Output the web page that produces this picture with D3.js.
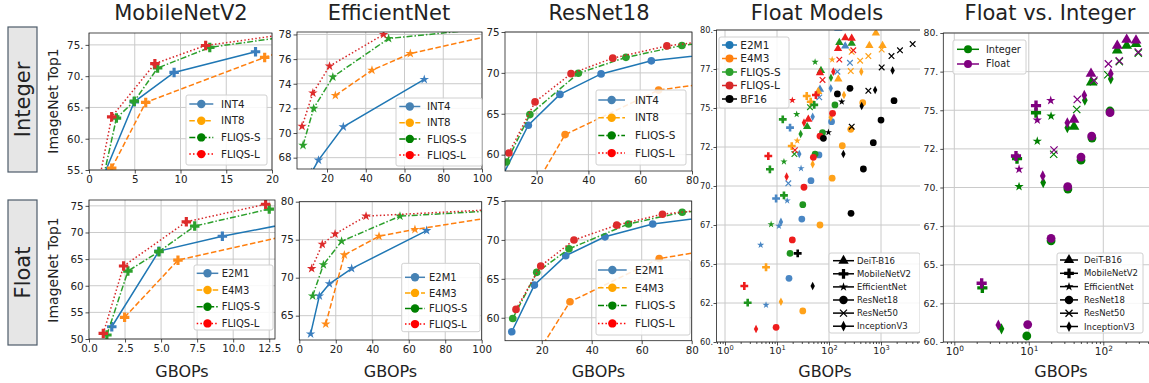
<!DOCTYPE html>
<html>
<head>
<meta charset="utf-8">
<script src="https://cdn.jsdelivr.net/npm/d3@7"></script>
<style>
  body { margin: 0; background: #fff; }
  svg { display: block; }
  text { font-family: "DejaVu Sans", sans-serif; fill: #222; }
</style>
</head>
<body>
<svg id="chart" width="1149" height="383"></svg>
<script>
// ---------- data: [GBOPs, ImageNet top-1] ----------
const intNames = ['INT4', 'INT8', 'FLIQS-S', 'FLIQS-L'];
const fpNames = ['E2M1', 'E4M3', 'FLIQS-S', 'FLIQS-L'];

// MobileNetV2, integer
const mbIntInt4 = [[1.0, 52], [4.95, 65.9], [9.3, 70.6], [18.2, 73.9]];
const mbIntInt8 = [[2.48, 55.3], [6.2, 65.8], [19.2, 73.0], [26, 76.4]];
const mbIntFliqsS = [[1.6, 54], [3.0, 63.3], [4.95, 66.0], [7.5, 71.3], [13.2, 74.6], [26, 77.2]];
const mbIntFliqsL = [[1.2, 54], [2.48, 63.5], [7.2, 72.0], [12.75, 74.9], [26, 77.6]];
// EfficientNet, integer
const effIntInt4 = [[12, 66.8], [15.6, 67.8], [28.4, 70.5], [70.2, 74.35]];
const effIntInt8 = [[24.3, 73.05], [43.2, 75.1], [63.0, 76.45], [110, 78.1]];
const effIntFliqsS = [[7.6, 69.0], [13.1, 72.0], [23.0, 74.55], [51.8, 77.67], [110, 78.6]];
const effIntFliqsL = [[7.1, 70.55], [12.7, 73.25], [21.3, 75.43], [49.2, 78.0]];
// ResNet18, integer
const r18IntInt4 = [[7, 57.5], [16.8, 63.6], [29.0, 67.37], [44.9, 69.87], [64.3, 71.47], [95, 72.6]];
const r18IntInt8 = [[15.5, 54], [31.0, 62.45], [67.1, 67.9], [95, 69.1]];
const r18IntFliqsS = [[8.4, 59.1], [17.4, 64.9], [36.1, 69.95], [54.5, 71.9], [76.1, 73.35], [100, 74.2]];
const r18IntFliqsL = [[9.3, 60.2], [19.4, 66.45], [33.3, 69.9], [49.4, 71.8], [70.3, 73.3], [100, 74.4]];
// MobileNetV2, float
const mbFloatE2M1 = [[1.58, 52.3], [4.85, 66.5], [9.25, 69.3], [16, 72.8]];
const mbFloatE4M3 = [[2.47, 54.07], [6.17, 64.8], [19, 72.6]];
const mbFloatFliqsS = [[1.24, 50.75], [2.7, 62.75], [4.85, 66.4], [7.33, 71.2], [12.5, 74.4]];
const mbFloatFliqsL = [[0.99, 51.05], [2.4, 63.7], [6.75, 72.0], [12.25, 75.3]];
// EfficientNet, float
const effFloatE2M1 = [[6.2, 62.6], [11.0, 67.6], [16.5, 69.2], [28.7, 71.2], [69.8, 76.2]];
const effFloatE4M3 = [[14.5, 63.9], [24.7, 73.0], [43.7, 75.45], [63.4, 76.35], [110, 78.1]];
const effFloatFliqsS = [[7.3, 67.6], [13.2, 71.7], [23.2, 74.8], [55.2, 78.1], [110, 78.85]];
const effFloatFliqsL = [[6.8, 71.2], [12.6, 74.4], [19.6, 75.75], [36.6, 78.1], [110, 79.0]];
// ResNet18, float
const r18FloatE2M1 = [[8.0, 58.2], [17.05, 64.2], [29.6, 67.97], [45.3, 70.4], [64.4, 72.05], [95, 73.3]];
const r18FloatE4M3 = [[15.5, 54], [31.3, 62.05], [67.0, 67.6], [95, 69.1]];
const r18FloatFliqsS = [[8.4, 59.9], [18.0, 65.83], [30.9, 68.85], [54.7, 72.05], [76.2, 73.55], [100, 74.2]];
const r18FloatFliqsL = [[9.7, 61.07], [19.6, 66.65], [32.9, 69.99], [50.0, 71.9], [68.3, 73.3], [100, 74.4]];

// scatter panels: [GBOPs, top-1, model]
const modelKeys = ['deit', 'mbv2', 'eff', 'r18', 'r50', 'incv3'];
const modelNames = ['DeiT-B16', 'MobileNetV2', 'EfficientNet', 'ResNet18', 'ResNet50', 'InceptionV3'];
const fmNames = ['E2M1', 'E4M3', 'FLIQS-S', 'FLIQS-L', 'BF16'];
const fmE2M1 = [[151, 80.1, 'deit'], [205, 78.97, 'deit'], [253, 77.9, 'r50'], [145, 77.33, 'r50'], [67, 76.2, 'deit'],
  [108, 76.26, 'incv3'], [65, 75.68, 'r50'], [48.5, 74.44, 'incv3'], [112, 74.12, 'r18'], [17.8, 73.74, 'mbv2'],
  [26.8, 72.05, 'incv3'], [64, 71.99, 'r18'], [29, 71.13, 'eff'], [16.5, 70.17, 'r50'], [45, 70.34, 'r18'],
  [9.6, 69.2, 'mbv2'], [15.7, 69.06, 'eff'], [30, 67.88, 'r18'], [11.9, 67.7, 'incv3'], [10.9, 67.44, 'eff'],
  [4.85, 66.22, 'eff'], [17, 64.08, 'r18'], [6.15, 62.37, 'eff']];
const fmE4M3 = [[797, 79.8, 'deit'], [597, 79.0, 'deit'], [1070, 79.0, 'deit'], [1030, 78.75, 'r50'], [273, 78.6, 'r50'],
  [571, 78.33, 'r50'], [397, 78.03, 'r50'], [115, 78.1, 'eff'], [262, 77.37, 'r50'], [418, 77.33, 'incv3'],
  [151, 76.86, 'deit'], [62, 76.05, 'deit'], [194, 75.83, 'incv3'], [37.3, 75.77, 'mbv2'], [44.5, 75.4, 'mbv2'],
  [445, 75.34, 'r18'], [108, 74.4, 'incv3'], [262, 73.63, 'r18'], [24.5, 72.9, 'eff'], [19.2, 72.56, 'mbv2'],
  [180, 72.58, 'r18'], [48.5, 71.4, 'incv3'], [115, 70.5, 'r18'], [67, 67.5, 'r18'], [6.15, 64.79, 'mbv2'],
  [11.9, 62.58, 'incv3'], [31.3, 61.99, 'r18']];
const fmFliqsS = [[158, 79.2, 'deit'], [273, 79.15, 'deit'], [54, 77.95, 'eff'], [70, 77.4, 'deit'], [109, 76.94, 'incv3'],
  [52, 75.2, 'mbv2'], [43, 75.05, 'r50'], [130, 75.2, 'r18'], [23.9, 74.6, 'eff'], [12.9, 74.27, 'mbv2'],
  [38, 73.8, 'deit'], [75, 73.42, 'r18'], [28.5, 73.33, 'incv3'], [21.6, 72.05, 'r50'], [54, 72.05, 'r18'],
  [13.6, 71.56, 'eff'], [7.3, 71.07, 'mbv2'], [13.6, 69.4, 'mbv2'], [31.3, 68.8, 'r18'], [7.7, 67.54, 'eff'],
  [17.8, 65.68, 'r18'], [2.73, 62.52, 'mbv2']];
const fmFliqsL = [[205, 79.5, 'deit'], [273, 79.47, 'deit'], [149, 78.8, 'deit'], [293, 78.7, 'r50'], [158, 78.1, 'r50'],
  [67, 77.26, 'deit'], [121, 77.33, 'incv3'], [75, 76.8, 'r50'], [56, 75.83, 'mbv2'], [19.7, 75.5, 'eff'],
  [117, 74.66, 'r18'], [33, 74.06, 'incv3'], [40, 74.27, 'deit'], [67, 73.2, 'r18'], [22.1, 72.3, 'r50'],
  [6.8, 71.92, 'mbv2'], [50, 71.84, 'r18'], [15.3, 70.6, 'incv3'], [33, 69.92, 'r18'], [19.7, 66.54, 'r18'],
  [2.35, 63.59, 'mbv2'], [3.95, 60.83, 'incv3'], [9.6, 60.94, 'r18']];
const fmBF16 = [[4060, 79.1, 'r50'], [2317, 78.7, 'r50'], [1590, 78.33, 'r50'], [1030, 77.6, 'r50'], [1670, 77.4, 'incv3'],
  [253, 76.26, 'r18'], [571, 76.1, 'r50'], [771, 76.15, 'incv3'], [145, 75.9, 'r18'], [176, 75.4, 'eff'],
  [425, 75.13, 'incv3'], [1780, 75.47, 'r18'], [1000, 74.23, 'r18'], [273, 73.8, 'r50'], [97.5, 73.44, 'eff'],
  [78, 73.06, 'r18'], [711, 72.78, 'r18'], [189, 72.05, 'incv3'], [458, 71.09, 'r18'], [265, 68.25, 'r18'],
  [25, 65.68, 'mbv2'], [48.5, 63.59, 'incv3']];

const fviNames = ['Integer', 'Float'];
const fviInteger = [[154, 78.88, 'deit'], [206, 79.18, 'deit'], [275, 79.3, 'deit'], [295, 78.7, 'r50'], [164, 78.15, 'r50'],
  [115, 77.3, 'r50'], [126, 77.03, 'incv3'], [69, 76.81, 'deit'], [74, 76.85, 'r50'], [56.5, 75.65, 'incv3'],
  [44, 75.05, 'r50'], [12.5, 74.84, 'mbv2'], [19.9, 74.62, 'eff'], [13, 73.0, 'eff'], [40.4, 73.94, 'deit'],
  [32.9, 73.87, 'incv3'], [70.5, 73.2, 'r18'], [123, 74.95, 'r18'], [21.6, 72.15, 'r50'], [6.95, 71.87, 'mbv2'],
  [50.2, 71.77, 'r18'], [7.4, 70.06, 'eff'], [15.6, 70.32, 'incv3'], [33.5, 69.9, 'r18'], [19.9, 66.55, 'r18'],
  [2.38, 63.5, 'mbv2'], [4.3, 60.85, 'incv3'], [9.4, 60.39, 'r18']];
const fviFloat = [[154, 79.18, 'deit'], [206, 79.57, 'deit'], [275, 79.52, 'deit'], [295, 78.77, 'r50'], [164, 78.2, 'r50'],
  [117, 78.0, 'r50'], [126, 77.37, 'incv3'], [68.4, 77.37, 'deit'], [75, 76.94, 'r50'], [55.6, 75.97, 'incv3'],
  [44.8, 75.7, 'r50'], [12.5, 75.3, 'mbv2'], [19.7, 75.63, 'eff'], [13, 74.36, 'eff'], [40.4, 74.4, 'deit'],
  [32.9, 74.19, 'incv3'], [69.8, 73.33, 'r18'], [123, 74.84, 'r18'], [21.8, 72.43, 'r50'], [6.73, 72.04, 'mbv2'],
  [50.2, 71.97, 'r18'], [7.4, 71.18, 'eff'], [15.4, 70.75, 'incv3'], [33.3, 70.06, 'r18'], [19.9, 66.71, 'r18'],
  [2.33, 63.8, 'mbv2'], [3.9, 61.1, 'incv3'], [9.67, 61.13, 'r18']];

// ---------- styles ----------
const lineCol = ['#1f77b4', '#ff7f0e', '#2ca02c', '#d62728'];
const markCol = ['#3b7ebe', '#ff8c1a', '#2ca02c', '#dd2b2b'];
const legCol = ['steelblue', 'orange', 'green', 'red'];
const dashes = [null, '5.5,2.5', '6,2,1.5,2', '1.5,2.2'];
const fmCol = ['#4a87c4', '#ffa21a', '#1f951f', '#ee1c1c', '#000'];
const fmLegCol = ['#1f77b4', '#ff7f0e', '#2ca02c', '#d62728', '#000'];
const fviCol = ['#008000', '#800080'];
const titleFont = '"Open Sans", sans-serif';

const svg = d3.select('#chart');
svg.append('rect').attr('width', 1149).attr('height', 383).attr('fill', '#fff');

let clipN = 0;
function clip(x0, y0, x1, y1) {
  const id = 'clip' + (clipN++);
  svg.append('clipPath').attr('id', id).append('rect')
    .attr('x', x0).attr('y', y0).attr('width', x1 - x0).attr('height', y1 - y0);
  return `url(#${id})`;
}

function modelPath(key, k) {
  switch (key) {
    case 'deit': return d3.symbol(d3.symbolTriangle, 30 * k * k)();
    case 'mbv2': return d3.symbol(d3.symbolCross, 34 * k * k)();
    case 'eff': return d3.symbol(d3.symbolStar, 16 * k * k)();
    case 'r18': return d3.symbol(d3.symbolCircle, 36 * k * k)();
    case 'r50': { const a = 2.8 * k; return `M${-a},${-a}L${a},${a}M${-a},${a}L${a},${-a}`; }
    default: { const w = 2.2 * k, h = 4.3 * k; return `M0,${-h}L${w},0L0,${h}L${-w},0Z`; }
  }
}

function mark(sel, d, color, hollow) {
  return sel.append('path').attr('d', d)
    .attr('fill', hollow ? 'none' : color)
    .attr('stroke', hollow ? color : 'none')
    .attr('stroke-width', hollow ? 1.3 : 0);
}

function styleAxis(sel, fs) {
  sel.select('.domain').remove();
  sel.selectAll('.tick line').attr('stroke', '#222').attr('stroke-width', 0.8);
  sel.selectAll('.tick text').attr('font-size', fs);
}

function legend(g, L, items) {
  g.append('rect').attr('x', L.x).attr('y', L.y).attr('width', L.w).attr('height', L.h)
    .attr('rx', 2).attr('fill', '#fff').attr('fill-opacity', 0.85).attr('stroke', '#d0d0d0');
  items.forEach((it, i) => {
    const cy = L.y + L.first + i * L.step, ax = L.x + L.lx;
    g.append('line').attr('x1', ax).attr('x2', ax + L.lw).attr('y1', cy).attr('y2', cy)
      .attr('stroke', it.color).attr('stroke-width', 1.5).attr('stroke-dasharray', it.dash);
    mark(g.append('g').attr('transform', `translate(${ax + L.lw / 2},${cy})`), it.d, it.color, it.hollow);
    g.append('text').attr('x', ax + L.lw + L.tx).attr('y', cy).attr('dy', '0.36em')
      .attr('font-size', L.fs).text(it.label);
  });
}

function frame(g, x0, y0, x1, y1) {
  g.append('rect').attr('x', x0).attr('y', y0).attr('width', x1 - x0).attr('height', y1 - y0)
    .attr('fill', 'none').attr('stroke', '#222').attr('stroke-width', 0.8);
}

function grid(g, xs, ys, x, y, x0, y0, x1, y1) {
  g.append('g').selectAll('line').data(xs).join('line')
    .attr('x1', d => x(d)).attr('x2', d => x(d)).attr('y1', y0).attr('y2', y1)
    .attr('stroke', '#cacaca').attr('stroke-width', 1);
  g.append('g').selectAll('line').data(ys).join('line')
    .attr('y1', d => y(d)).attr('y2', d => y(d)).attr('x1', x0).attr('x2', x1)
    .attr('stroke', '#cacaca').attr('stroke-width', 1);
}

const trunc = d => d3.format('.1f')(d).slice(0, -1);

function linePanel(o) {
  const [x0, y0, x1, y1] = o.box;
  const x = d3.scaleLinear().domain(o.xd).range([x0, x1]);
  const y = d3.scaleLinear().domain(o.yd).range([y1, y0]);
  const g = svg.append('g');
  grid(g, o.xt, o.yt, x, y, x0, y0, x1, y1);
  g.append('g').attr('transform', `translate(0,${y1})`)
    .call(d3.axisBottom(x).tickValues(o.xt).tickFormat(o.xf || d3.format('d')).tickSize(3.5).tickPadding(2))
    .call(s => styleAxis(s, 10.3));
  g.append('g').attr('transform', `translate(${x0},0)`)
    .call(d3.axisLeft(y).tickValues(o.yt).tickFormat(o.yf || d3.format('d')).tickSize(3.5).tickPadding(2))
    .call(s => styleAxis(s, 10.3));
  const data = g.append('g').attr('clip-path', clip(x0, y0, x1, y1));
  const line = d3.line().x(d => x(d[0])).y(d => y(d[1]));
  o.series.forEach((s, i) => {
    data.append('path').datum(s).attr('d', line).attr('fill', 'none')
      .attr('stroke', lineCol[i]).attr('stroke-width', 1.5).attr('stroke-dasharray', dashes[i]);
    data.append('g').selectAll('path').data(s).join('path')
      .attr('transform', d => `translate(${x(d[0])},${y(d[1])})`)
      .attr('d', o.marker).attr('fill', markCol[i]);
  });
  frame(g, x0, y0, x1, y1);
  const circle = d3.symbol(d3.symbolCircle, 56)();
  legend(g, o.leg, o.names.map((n, i) => ({ label: n, color: legCol[i], dash: dashes[i], d: circle })));
  if (o.title) g.append('text').attr('x', o.title[1]).attr('y', 20).attr('text-anchor', 'middle')
    .attr('font-family', titleFont).attr('font-size', 21).text(o.title[0]);
  if (o.xlabel) g.append('text').attr('x', (x0 + x1) / 2).attr('y', 377).attr('text-anchor', 'middle')
    .attr('font-family', titleFont).attr('font-size', 16).text('GBOPs');
}

function logPanel(o) {
  const [x0, y0, x1, y1] = o.box;
  const x = d3.scaleLog().domain(o.xd).range([x0, x1]);
  const y = d3.scaleLinear().domain([60, 80]).range([y1, y0]);
  const yt = [60, 62.5, 65, 67.5, 70, 72.5, 75, 77.5, 80];
  const majors = [1, 10, 100, 1000, 10000].filter(v => v >= o.xd[0] && v <= o.xd[1]);
  const labelled = majors.filter(v => v <= o.maxLabel);
  const minors = [];
  for (let e = -1; e < 4; e++) for (let m = 2; m < 10; m++) {
    const v = m * Math.pow(10, e);
    if (v >= o.xd[0] && v <= o.xd[1]) minors.push(v);
  }
  const g = svg.append('g');
  grid(g, majors, yt, x, y, x0, y0, x1, y1);
  g.append('g').attr('transform', `translate(0,${y1})`)
    .call(d3.axisBottom(x).tickValues(minors).tickFormat('').tickSize(2))
    .call(s => styleAxis(s, 9));
  g.append('g').attr('transform', `translate(0,${y1})`)
    .call(d3.axisBottom(x).tickValues(labelled).tickFormat('').tickSize(3.5).tickPadding(2))
    .call(s => styleAxis(s, o.xfs))
    .selectAll('.tick text').each(function (d) {
      const t = d3.select(this);
      t.text('10');
      t.append('tspan').attr('dy', -4).attr('font-size', o.xfs * 0.7).text(Math.round(Math.log10(d)));
    });
  g.append('g').attr('transform', `translate(${x0},0)`)
    .call(d3.axisLeft(y).tickValues(yt).tickFormat(trunc).tickSize(3).tickPadding(o.ypad))
    .call(s => styleAxis(s, o.yfs));
  const data = g.append('g').attr('clip-path', clip(x0, y0, x1, y1));
  o.series.forEach((s, i) => {
    data.append('g').selectAll('path').data(s).join('path')
      .attr('transform', d => `translate(${x(d[0])},${y(d[1])})`)
      .attr('d', d => modelPath(d[2], o.k))
      .attr('fill', d => d[2] === 'r50' ? 'none' : o.colors[i])
      .attr('stroke', d => d[2] === 'r50' ? o.colors[i] : 'none')
      .attr('stroke-width', 1.2);
  });
  frame(g, x0, y0, x1, y1);
  const circle = d3.symbol(d3.symbolCircle, 50)();
  legend(g, o.leg1, o.names.map((n, i) => ({ label: n, color: o.legColors[i], dash: null, d: circle })));
  legend(g, o.leg2, modelNames.map((n, i) => ({ label: n, color: '#000', dash: null,
    d: modelPath(modelKeys[i], 1.25), hollow: modelKeys[i] === 'r50' })));
  g.append('text').attr('x', o.title[1]).attr('y', 20).attr('text-anchor', 'middle')
    .attr('font-family', titleFont).attr('font-size', 21).text(o.title[0]);
  g.append('text').attr('x', o.xlabelX).attr('y', 377).attr('text-anchor', 'middle')
    .attr('font-family', titleFont).attr('font-size', 16).text('GBOPs');
}

// ---------- row labels ----------
[['Integer', 27, 172], ['Float', 200, 345]].forEach(([t, a, b]) => {
  svg.append('rect').attr('x', 8).attr('y', a).attr('width', 29).attr('height', b - a)
    .attr('fill', '#e6e6e6').attr('stroke', '#4d5b69').attr('stroke-width', 1.2);
  svg.append('text').attr('transform', `translate(23,${(a + b) / 2}) rotate(-90)`)
    .attr('text-anchor', 'middle').attr('dy', '0.35em')
    .attr('font-family', titleFont).attr('font-size', 21).text(t);
});
[101, 270].forEach(cy => {
  svg.append('text').attr('transform', `translate(53,${cy}) rotate(-90)`)
    .attr('text-anchor', 'middle').attr('dy', '0.35em').attr('font-size', 14).text('ImageNet Top1');
});

// ---------- line panels ----------
const plusD = d3.symbol(d3.symbolCross, 50)();
const starD = d3.symbol(d3.symbolStar, 28)();
const circD = d3.symbol(d3.symbolCircle, 46)();

linePanel({ box: [89, 33, 272, 170], xd: [0, 20], yd: [55, 76.9], xt: [0, 5, 10, 15, 20], yt: [55, 60, 65, 70, 75],
  yf: trunc, series: [mbIntInt4, mbIntInt8, mbIntFliqsS, mbIntFliqsL], names: intNames, marker: plusD,
  leg: { x: 186, y: 95, w: 81, h: 70, first: 9, step: 16.7, lx: 3.3, lw: 24, tx: 7.7, fs: 10.3 },
  title: ['MobileNetV2', 181] });
linePanel({ box: [297, 32, 482, 169], xd: [4.5, 100], yd: [67.08, 78.2], xt: [20, 40, 60, 80, 100], yt: [68, 70, 72, 74, 76, 78],
  series: [effIntInt4, effIntInt8, effIntFliqsS, effIntFliqsL], names: intNames, marker: starD,
  leg: { x: 396, y: 98, w: 86, h: 68, first: 8.5, step: 16.2, lx: 3.3, lw: 21, tx: 6.7, fs: 10.3 },
  title: ['EfficientNet', 389] });
linePanel({ box: [505, 32, 692, 171], xd: [7.8, 80], yd: [58, 75], xt: [20, 40, 60, 80], yt: [60, 65, 70, 75],
  series: [r18IntInt4, r18IntInt8, r18IntFliqsS, r18IntFliqsL], names: intNames, marker: circD,
  leg: { x: 596, y: 90, w: 90, h: 75, first: 10, step: 17.7, lx: 2.3, lw: 26.7, tx: 10, fs: 10.5 },
  title: ['ResNet18', 599] });
linePanel({ box: [89, 200, 275, 339], xd: [0, 12.9], yd: [50, 76.1], xt: [0, 2.5, 5, 7.5, 10, 12.5], yt: [50, 55, 60, 65, 70, 75],
  xf: d3.format('.1f'), series: [mbFloatE2M1, mbFloatE4M3, mbFloatFliqsS, mbFloatFliqsL], names: fpNames, marker: plusD,
  leg: { x: 194, y: 265, w: 79, h: 65, first: 8.3, step: 16.7, lx: 2.7, lw: 21.6, tx: 3.4, fs: 10 },
  xlabel: true });
linePanel({ box: [299.3, 201.7, 481.7, 340], xd: [0, 100], yd: [61.8, 80], xt: [0, 20, 40, 60, 80, 100], yt: [65, 70, 75, 80],
  series: [effFloatE2M1, effFloatE4M3, effFloatFliqsS, effFloatFliqsL], names: fpNames, marker: starD,
  leg: { x: 401.7, y: 263.3, w: 78.3, h: 68.4, first: 14, step: 15.6, lx: 3.3, lw: 20, tx: 4, fs: 10 },
  xlabel: true });
linePanel({ box: [505, 201, 691.7, 340.7], xd: [5.3, 80], yd: [57.05, 75], xt: [20, 40, 60, 80], yt: [60, 65, 70, 75],
  series: [r18FloatE2M1, r18FloatE4M3, r18FloatFliqsS, r18FloatFliqsL], names: fpNames, marker: circD,
  leg: { x: 596, y: 260, w: 94, h: 75, first: 10, step: 17.8, lx: 2, lw: 28.7, tx: 8.3, fs: 10.5 },
  xlabel: true });

// ---------- scatter panels ----------
logPanel({ box: [716.5, 30, 935, 342], xd: [0.686, 10920], k: 1, xfs: 9.5, yfs: 8.2, ypad: 0.5, maxLabel: 1000,
  series: [fmE2M1, fmE4M3, fmFliqsS, fmFliqsL, fmBF16], colors: fmCol, legColors: fmLegCol, names: fmNames,
  leg1: { x: 719, y: 37, w: 70, h: 71, first: 8, step: 13.5, lx: 3, lw: 15, tx: 3.3, fs: 10.5 },
  leg2: { x: 829, y: 253, w: 91, h: 80, first: 7.7, step: 13.1, lx: 4, lw: 21, tx: 3, fs: 8.5 },
  title: ['Float Models', 817], xlabelX: 825 });

svg.append('rect').attr('x', 920).attr('y', 0).attr('width', 229).attr('height', 383).attr('fill', '#fff');

logPanel({ box: [943.3, 33, 1179, 342], xd: [0.712, 1038], k: 1.3, xfs: 10.5, yfs: 9.3, ypad: 2, maxLabel: 100,
  series: [fviInteger, fviFloat], colors: fviCol, legColors: fviCol, names: fviNames,
  leg1: { x: 953, y: 40, w: 73, h: 34, first: 9.3, step: 14.7, lx: 4, lw: 22, tx: 7, fs: 9.7 },
  leg2: { x: 1057, y: 253, w: 86, h: 80, first: 7, step: 13.3, lx: 3, lw: 18, tx: 6, fs: 8.5 },
  title: ['Float vs. Integer', 1050], xlabelX: 1061 });
</script>
</body>
</html>
